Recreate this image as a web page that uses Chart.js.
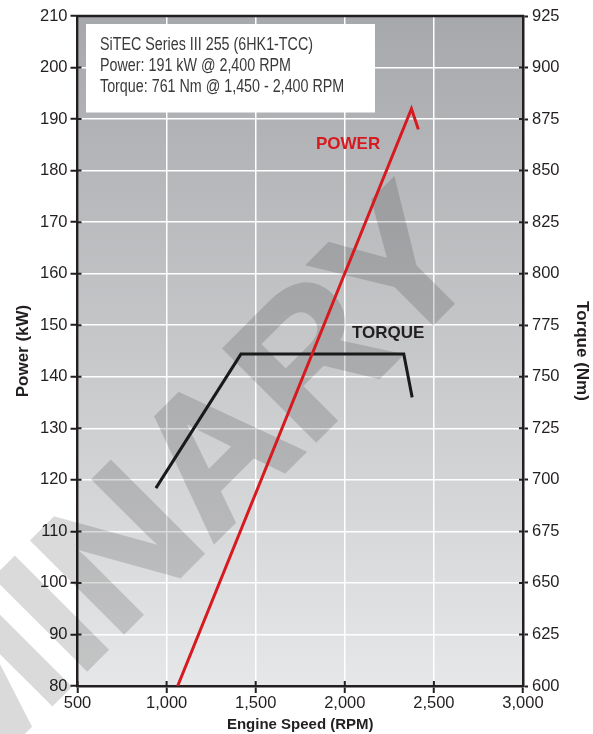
<!DOCTYPE html>
<html>
<head>
<meta charset="utf-8">
<script src="https://cdn.jsdelivr.net/npm/chart.js@4"></script>
<style>
  html, body { margin: 0; padding: 0; background: #fff; }
  #wrap { width: 593px; height: 734px; }
</style>
</head>
<body>
<div id="wrap"><canvas id="chart" width="593" height="734"></canvas></div>
<script>
// values
const powerRpm = [1062, 2374, 2413];
const powerKw = [80, 192, 188];
const torqueRpm = [940, 1417, 2331, 2378];
const torqueNm = [696, 761, 761, 740];

const infoLines = [
  'SiTEC Series III 255 (6HK1-TCC)',
  'Power: 191 kW @ 2,400 RPM',
  'Torque: 761 Nm @ 1,450 - 2,400 RPM'
];

const INK = '#231f20';
const RED = '#d71920';
const SANS = '"Liberation Sans", Arial, Helvetica, sans-serif';

const toPoints = (xs, ys) => xs.map((x, i) => ({ x: x, y: ys[i] }));

// watermark is drawn opaque off screen, then laid over at low alpha
function drawWatermark(chart) {
  const dpr = chart.currentDevicePixelRatio || 1;
  const off = document.createElement('canvas');
  off.width = chart.canvas.width;
  off.height = chart.canvas.height;
  const o = off.getContext('2d');
  o.scale(dpr, dpr);
  o.translate(487, 269);
  o.rotate(-45 * Math.PI / 180);
  o.font = 'bold 188px ' + SANS;
  o.textAlign = 'right';
  o.textBaseline = 'alphabetic';
  o.fillStyle = '#000';
  o.strokeStyle = '#000';
  o.lineWidth = 4;
  o.lineJoin = 'miter';
  o.fillText('PRELIMINARY', 0, 0);
  o.strokeText('PRELIMINARY', 0, 0);

  const ctx = chart.ctx;
  ctx.save();
  ctx.globalAlpha = 0.14;
  ctx.drawImage(off, 0, 0, chart.width, chart.height);
  ctx.restore();
}

const decor = {
  id: 'decor',
  beforeDraw(chart) {
    const { ctx, chartArea: a } = chart;
    ctx.save();
    ctx.fillStyle = '#fff';
    ctx.fillRect(0, 0, chart.width, chart.height);
    const g = ctx.createLinearGradient(0, a.top, 0, a.bottom);
    g.addColorStop(0, '#a6a8ab');
    g.addColorStop(1, '#e6e7e8');
    ctx.fillStyle = g;
    ctx.fillRect(a.left, a.top, a.right - a.left, a.bottom - a.top);
    ctx.restore();
  },
  beforeDatasetsDraw(chart) {
    drawWatermark(chart);
  },
  afterDatasetsDraw(chart) {
    const { ctx, chartArea: a, scales } = chart;
    ctx.save();
    // top frame line
    ctx.strokeStyle = INK;
    ctx.lineWidth = 2.5;
    ctx.beginPath();
    ctx.moveTo(a.left - 1, a.top);
    ctx.lineTo(a.right + 1, a.top);
    ctx.stroke();
    // short inward tick stubs
    ctx.lineWidth = 2;
    ctx.beginPath();
    scales.y.ticks.forEach(t => {
      const p = scales.y.getPixelForValue(t.value);
      ctx.moveTo(a.left, p); ctx.lineTo(a.left + 4, p);
    });
    scales.y1.ticks.forEach(t => {
      const p = scales.y1.getPixelForValue(t.value);
      ctx.moveTo(a.right, p); ctx.lineTo(a.right - 4, p);
    });
    scales.x.ticks.forEach(t => {
      const p = scales.x.getPixelForValue(t.value);
      ctx.moveTo(p, a.bottom); ctx.lineTo(p, a.bottom - 5);
    });
    ctx.stroke();

    // series labels
    ctx.font = 'bold 17px ' + SANS;
    ctx.textBaseline = 'middle';
    ctx.textAlign = 'left';
    ctx.fillStyle = RED;
    ctx.fillText('POWER', 316, 144);
    ctx.fillStyle = INK;
    ctx.fillText('TORQUE', 352, 333);

    // info box
    ctx.fillStyle = '#fff';
    ctx.fillRect(86, 24, 289, 88.5);
    ctx.font = '18px "Liberation Sans Narrow", ' + SANS;
    const w0 = ctx.measureText(infoLines[0]).width;
    const sx = 213 / w0;
    ctx.fillStyle = '#3a3a3a';
    ctx.textBaseline = 'middle';
    infoLines.forEach((line, i) => {
      ctx.save();
      ctx.translate(100, 45.5 + i * 21);
      ctx.scale(sx, 1);
      ctx.fillText(line, 0, 0);
      ctx.restore();
    });
    ctx.restore();
  }
};

new Chart(document.getElementById('chart'), {
  type: 'line',
  data: {
    datasets: [
      {
        label: 'Power',
        data: toPoints(powerRpm, powerKw),
        yAxisID: 'y',
        borderColor: RED,
        borderWidth: 3,
        pointRadius: 0,
        tension: 0,
        borderJoinStyle: 'miter'
      },
      {
        label: 'Torque',
        data: toPoints(torqueRpm, torqueNm),
        yAxisID: 'y1',
        borderColor: '#1a1a1a',
        borderWidth: 3,
        pointRadius: 0,
        tension: 0,
        borderJoinStyle: 'miter'
      }
    ]
  },
  options: {
    responsive: false,
    animation: false,
    layout: { padding: { top: 16, left: 0, right: 0, bottom: 0 } },
    plugins: {
      legend: { display: false },
      tooltip: { enabled: false }
    },
    scales: {
      x: {
        type: 'linear',
        min: 500,
        max: 3000,
        afterFit: s => { s.height = 48; },
        ticks: {
          stepSize: 500,
          color: INK,
          padding: 1,
          maxRotation: 0,
          font: { family: SANS, size: 16.5 }
        },
        grid: {
          color: '#ffffff',
          lineWidth: 1.5,
          tickColor: INK,
          tickWidth: 2,
          tickLength: 7
        },
        border: { color: INK, width: 2.5 },
        title: {
          display: true,
          text: 'Engine Speed (RPM)',
          color: INK,
          padding: 0,
          font: { family: SANS, size: 15, weight: 'bold' }
        }
      },
      y: {
        position: 'left',
        min: 80,
        max: 210,
        afterFit: s => { s.width = 77.5; },
        ticks: {
          stepSize: 10,
          color: INK,
          padding: 3,
          font: { family: SANS, size: 16.5 }
        },
        grid: {
          color: '#ffffff',
          lineWidth: 1.5,
          tickColor: INK,
          tickWidth: 2,
          tickLength: 7
        },
        border: { color: INK, width: 2.5 },
        title: {
          display: true,
          text: 'Power (kW)',
          color: INK,
          padding: { top: 13, bottom: 0 },
          font: { family: SANS, size: 17, weight: 'bold' }
        }
      },
      y1: {
        position: 'right',
        min: 600,
        max: 925,
        afterFit: s => { s.width = 70; },
        ticks: {
          stepSize: 25,
          color: INK,
          padding: 4,
          font: { family: SANS, size: 16.5 }
        },
        grid: {
          drawOnChartArea: false,
          tickColor: INK,
          tickWidth: 2,
          tickLength: 5
        },
        border: { color: INK, width: 2.5 },
        title: {
          display: true,
          text: 'Torque (Nm)',
          color: INK,
          padding: { top: 1, bottom: 0 },
          font: { family: SANS, size: 17, weight: 'bold' }
        }
      }
    }
  },
  plugins: [decor]
});
</script>
</body>
</html>
